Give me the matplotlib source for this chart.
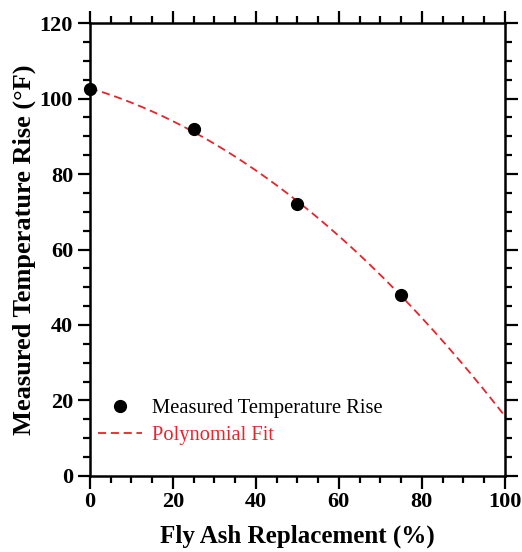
import numpy as np
import matplotlib.pyplot as plt
from matplotlib.ticker import MultipleLocator

plt.rcParams['font.family'] = ['Liberation Serif', 'DejaVu Serif']

# measured data
fly_ash = [0, 25, 50, 75]
temp_rise = [102.5, 92, 72, 48]

# polynomial (quadratic) fit of the measured data
coef = np.polyfit(fly_ash, temp_rise, 2)
xfit = np.linspace(0, 100, 200)
yfit = np.polyval(coef, xfit)

red = '#e3262b'

fig = plt.figure(figsize=(5.22, 5.52), dpi=100)
ax = fig.add_axes([0.172, 0.138, 0.795, 0.82])

ax.plot(xfit, yfit, ls=(0, (4.5, 2.6)), color=red, lw=1.3, label='Polynomial Fit', zorder=2)
ax.plot(fly_ash, temp_rise, 'o', color='black', ms=8.5, label='Measured Temperature Rise',
        clip_on=False, zorder=3)

ax.set_xlim(0, 100)
ax.set_ylim(0, 120)
ax.xaxis.set_major_locator(MultipleLocator(20))
ax.xaxis.set_minor_locator(MultipleLocator(5))
ax.yaxis.set_major_locator(MultipleLocator(20))
ax.yaxis.set_minor_locator(MultipleLocator(5))
ax.tick_params(which='both', direction='out', top=True, right=True, width=1.6)
ax.tick_params(which='major', length=9, labelsize=16, pad=3)
ax.tick_params(which='minor', length=5)
for lab in ax.get_xticklabels() + ax.get_yticklabels():
    lab.set_fontweight('bold')
for sp in ax.spines.values():
    sp.set_linewidth(1.8)

ax.set_xlabel('Fly Ash Replacement (%)', fontsize=18, fontweight='bold', labelpad=9)
ax.set_ylabel('Measured Temperature Rise (°F)', fontsize=19, fontweight='bold', labelpad=3)

h, l = ax.get_legend_handles_labels()
leg = ax.legend(h[::-1], l[::-1], loc='lower left', bbox_to_anchor=(0.0, 0.05), borderaxespad=0,
                frameon=False, fontsize=14.8, handlelength=2.15, handletextpad=0.5,
                labelspacing=0.35)
leg.get_texts()[1].set_color(red)

fig.savefig('out.png', dpi=100)
